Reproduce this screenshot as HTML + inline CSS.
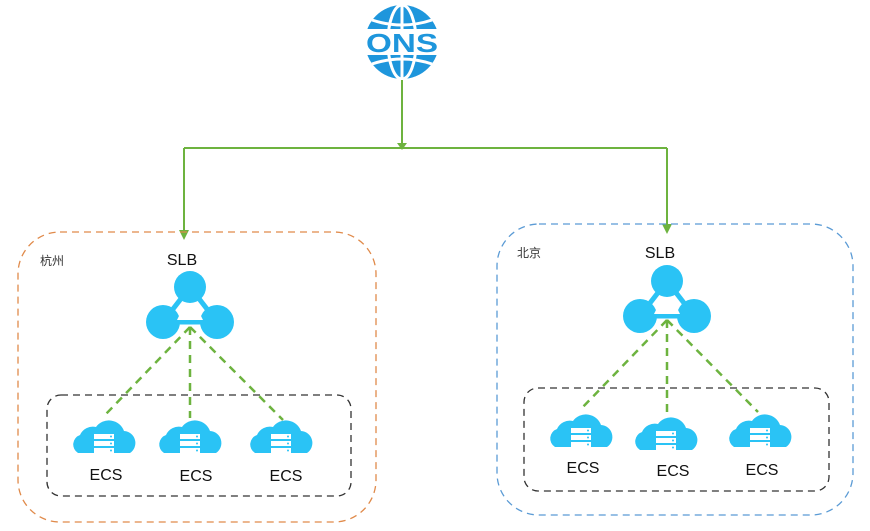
<!DOCTYPE html>
<html><head><meta charset="utf-8"><style>body{margin:0;background:#fff}svg{display:block}</style></head><body>
<svg width="870" height="531" viewBox="0 0 870 531" xmlns="http://www.w3.org/2000/svg" font-family="Liberation Sans, Noto Sans CJK SC, sans-serif">
<defs>
<g id="cloud">
<path d="M-26,10 a10,10 0 0 1 2,-18 a14,14 0 0 1 16,-8 a16,16 0 0 1 28,4 a12,12 0 0 1 6,22 z" fill="#2ac3f5"/>
<rect x="-10" y="-9" width="20" height="5" fill="#fff"/><rect x="-10" y="-2" width="20" height="5" fill="#fff"/><rect x="-10" y="5" width="20" height="5" fill="#fff"/>
<circle cx="7" cy="-6.5" r="1" fill="#2ac3f5"/><circle cx="7" cy="0.5" r="1" fill="#2ac3f5"/><circle cx="7" cy="7.5" r="1" fill="#2ac3f5"/>
</g>
<g id="slb">
<path d="M0,0 L-27,35 L27,35 Z" fill="none" stroke="#2ac3f5" stroke-width="5"/>
<circle cx="0" cy="0" r="16" fill="#2ac3f5"/><circle cx="-27" cy="35" r="17" fill="#2ac3f5"/><circle cx="27" cy="35" r="17" fill="#2ac3f5"/>
<path d="M-9,25 L9,25 L13,33 L-13,33 Z" fill="#fff"/>
</g>
</defs>
<circle cx="402" cy="42" r="37" fill="#1e96dc"/>
<g stroke="#fff" stroke-width="3" fill="none">
<ellipse cx="402" cy="42" rx="14" ry="37"/><line x1="402" y1="5" x2="402" y2="79"/>
<path d="M372,20 Q402,30 432,20"/><path d="M372,64 Q402,54 432,64"/>
</g>
<rect x="364" y="29" width="76" height="26" fill="#fff"/>
<text x="402" y="52" text-anchor="middle" font-size="26" font-weight="bold" fill="#1e96dc" textLength="72" lengthAdjust="spacingAndGlyphs">ONS</text>
<g stroke="#6db33f" stroke-width="2" fill="none">
<path d="M402,80 V148 M184,148 H667 M184,148 V236 M667,148 V230"/>
</g>
<path d="M179,230 L184,240 L189,230 Z M662,224 L667,234 L672,224 Z M397,143 L402,150 L407,143Z" fill="#6db33f"/>
<rect x="18" y="232" width="358" height="290" rx="42" fill="none" stroke="#e08a4a" stroke-width="1.3" stroke-dasharray="7,5"/>
<rect x="497" y="224" width="356" height="291" rx="42" fill="none" stroke="#5b9bd5" stroke-width="1.3" stroke-dasharray="7,5"/>
<text x="40" y="265" font-size="12" fill="#333">杭州</text>
<text x="517" y="257" font-size="12" fill="#333">北京</text>
<rect x="47" y="395" width="304" height="101" rx="14" fill="none" stroke="#333" stroke-width="1.3" stroke-dasharray="7,5"/>
<rect x="524" y="388" width="305" height="103" rx="14" fill="none" stroke="#333" stroke-width="1.3" stroke-dasharray="7,5"/>
<text x="182" y="265" font-size="16" text-anchor="middle" fill="#111">SLB</text>
<text x="660" y="258" font-size="16" text-anchor="middle" fill="#111">SLB</text>
<use href="#slb" x="190" y="287"/><use href="#slb" x="667" y="281"/>
<g stroke="#6db33f" stroke-width="2.5" fill="none" stroke-dasharray="8,6">
<path d="M190,327 L105,415 M190,327 V418 M190,327 L283,420"/>
<path d="M667,320 L580,410 M667,320 V412 M667,320 L758,412"/>
</g>
<use href="#cloud" x="104" y="443"/><use href="#cloud" x="190" y="443"/><use href="#cloud" x="281" y="443"/>
<use href="#cloud" x="581" y="437"/><use href="#cloud" x="666" y="440"/><use href="#cloud" x="760" y="437"/>
<g font-size="16" text-anchor="middle" fill="#111">
<text x="106" y="480">ECS</text><text x="196" y="481">ECS</text><text x="286" y="481">ECS</text>
<text x="583" y="473">ECS</text><text x="673" y="476">ECS</text><text x="762" y="475">ECS</text>
</g>
</svg>
</body></html>
